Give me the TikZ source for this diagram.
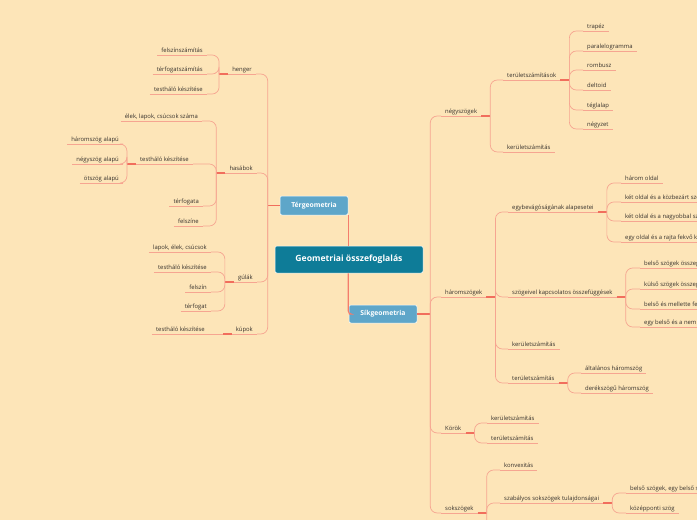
\documentclass[tikz,border=0pt]{standalone}
\usepackage{fontspec}
\setmainfont{Open Sans}

% Szinek
\definecolor{hatter}{RGB}{253,229,184}
\definecolor{vonal}{RGB}{246,165,145}
\definecolor{csonk}{RGB}{241,110,92}
\definecolor{fovonal}{RGB}{244,125,108}
\definecolor{kozep}{RGB}{14,124,152}
\definecolor{agkek}{RGB}{94,166,201}
\definecolor{szoveg}{RGB}{55,50,45}

\tikzset{
  alahuz/.style={draw=vonal, line width=0.6pt},
  tema/.style={font=\fontsize{5.9}{7}\selectfont, text=szoveg,
    inner xsep=4pt, inner ysep=1.4pt, text height=4.3pt, text depth=1.2pt,
    append after command={(\tikzlastnode.south west) edge[alahuz] (\tikzlastnode.south east)}},
  bal/.style={tema, anchor=south east},
  jobb/.style={tema, anchor=south west},
  ag/.style={draw=vonal, line width=0.7pt, rounded corners=7pt},
  csonkvonal/.style={draw=csonk, line width=1.6pt},
  fo/.style={draw=fovonal, line width=1.1pt, rounded corners=3pt},
  doboz/.style={rounded corners=2pt, draw=white, line width=0.5pt, text=white,
    font=\bfseries\fontsize{6.8}{8}\selectfont, fill=agkek,
    minimum width=68pt, minimum height=19pt, inner sep=0pt}
}

\begin{document}
\begin{tikzpicture}[x=1pt, y=-1pt]

  % Hatter es keret
  \useasboundingbox (0,0) rectangle (697,520);
  \clip (0,0) rectangle (697,520);
  \fill[hatter] (0,0) rectangle (697,520);

  % Kozepso temak
  \node[doboz, fill=kozep, minimum width=148pt, minimum height=27pt,
    font=\bfseries\fontsize{8.6}{10}\selectfont] (geo) at (349,259.5) {Geometriai összefoglalás};
  \node[doboz] (ter) at (314,205.5) {Térgeometria};
  \node[doboz, minimum height=18pt] (sik) at (383,314) {Síkgeometria};

  \draw[fo] (ter.south east) -- (ter.south east |- geo.north);
  \draw[fo] (geo.south -| ter.south east) |- (sik.west);

  % Tergeometria aga
  \node[bal] (henger) at (256,74) {henger};
  \node[bal] (felszinsz) at (207,55) {felszínszámítás};
  \node[bal] (terfogsz) at (207,74) {térfogatszámítás};
  \node[bal] (hengerhalo) at (207,94) {testháló készítése};

  \node[bal] (hasabok) at (257,173) {hasábok};
  \node[bal] (hasel) at (202,121) {élek, lapok, csúcsok száma};
  \node[bal] (hashalo) at (193,164) {testháló készítése};
  \node[bal] (haromalap) at (123,144) {háromszög alapú};
  \node[bal] (negyalap) at (123,164) {négyszög alapú};
  \node[bal] (otalap) at (123,183) {ötszög alapú};
  \node[bal] (hasterf) at (203,206) {térfogata};
  \node[bal] (hasfel) at (203,226) {felszíne};

  \node[bal] (gulak) at (257,282) {gúlák};
  \node[bal] (gullap) at (211,252) {lapok, élek, csúcsok};
  \node[bal] (gulhalo) at (211,272) {testháló készítése};
  \node[bal] (gulfel) at (211,292) {felszín};
  \node[bal] (gulterf) at (211,311) {térfogat};

  \node[bal] (kupok) at (257,334) {kúpok};
  \node[bal] (kuphalo) at (209,334) {testháló készítése};

  % Sikgeometria aga
  \node[jobb] (negyszog) at (441,116) {négyszögek};
  \node[jobb] (terszamok) at (503,80) {területszámítások};
  \node[jobb] (trapez) at (583,31) {trapéz};
  \node[jobb] (paral) at (583,51) {paralelogramma};
  \node[jobb] (rombusz) at (583,70) {rombusz};
  \node[jobb] (deltoid) at (583,90) {deltoid};
  \node[jobb] (teglalap) at (583,110) {téglalap};
  \node[jobb] (negyzet) at (583,129) {négyzet};
  \node[jobb] (negyker) at (503,152) {kerületszámítás};

  \node[jobb] (haromszog) at (441,297) {háromszögek};
  \node[jobb] (egybe) at (508,212) {egybevágóságának alapesetei};
  \node[jobb] (egy1) at (621,183) {három oldal};
  \node[jobb] (egy2) at (621,202) {két oldal és a közbezárt szög};
  \node[jobb] (egy3) at (621,221) {két oldal és a nagyobbal szemközti szög};
  \node[jobb] (egy4) at (621,242) {egy oldal és a rajta fekvő két szög};
  \node[jobb] (szogei) at (508,297) {szögeivel kapcsolatos összefüggések};
  \node[jobb] (szog1) at (640,268) {belső szögek összege};
  \node[jobb] (szog2) at (640,289) {külső szögek összege};
  \node[jobb] (szog3) at (640,309) {belső és mellette fekvő külső szög};
  \node[jobb] (szog4) at (640,327) {egy belső és a nem mellette fekvő külső szög};
  \node[jobb] (haromker) at (508,349) {kerületszámítás};
  \node[jobb] (haromter) at (508,383) {területszámítás};
  \node[jobb] (altalanos) at (581,373) {általános háromszög};
  \node[jobb] (derek) at (581,393) {derékszögű háromszög};

  \node[jobb] (korok) at (441,433) {Körök};
  \node[jobb] (korker) at (487,423) {kerületszámítás};
  \node[jobb] (korter) at (487,443) {területszámítás};

  \node[jobb] (sokszog) at (441,513) {sokszögek};
  \node[jobb] (konvex) at (500,470) {konvexitás};
  \node[jobb] (szabalyos) at (500,503) {szabályos sokszögek tulajdonságai};
  \node[jobb] (szab1) at (626,493) {belső szögek, egy belső szög};
  \node[jobb] (szab2) at (626,513) {középponti szög};
  \coordinate (sokmore) at (500,560);

  % Csonkok a szulok mellett
  \draw[csonkvonal] (ter.west) -- ++(-12,0) coordinate (ter-s);
  \draw[csonkvonal] (sik.east) -- ++(13,0) coordinate (sik-s);
  \foreach \p in {henger,hasabok,hashalo,gulak,kupok}
    \draw[csonkvonal] (\p.south west) -- ++(-9,0) coordinate (\p-s);
  \foreach \p in {negyszog,terszamok,haromszog,egybe,szogei,haromter,korok,sokszog,szabalyos}
    \draw[csonkvonal] (\p.south east) -- ++(9,0) coordinate (\p-s);

  % Agak bal oldalt
  \foreach \c in {henger,hasabok,gulak,kupok}
    \draw[ag] (ter-s) |- (\c.south east);
  \foreach \c in {felszinsz,terfogsz,hengerhalo}
    \draw[ag] (henger-s) |- (\c.south east);
  \foreach \c in {hasel,hashalo,hasterf,hasfel}
    \draw[ag] (hasabok-s) |- (\c.south east);
  \foreach \c in {haromalap,negyalap,otalap}
    \draw[ag] (hashalo-s) |- (\c.south east);
  \foreach \c in {gullap,gulhalo,gulfel,gulterf}
    \draw[ag] (gulak-s) |- (\c.south east);
  \draw[ag] (kupok-s) -- (kuphalo.south east);

  % Agak jobb oldalt
  \foreach \c in {negyszog,haromszog,korok,sokszog}
    \draw[ag] (sik-s) |- (\c.south west);
  \foreach \c in {terszamok,negyker}
    \draw[ag] (negyszog-s) |- (\c.south west);
  \foreach \c in {trapez,paral,rombusz,deltoid,teglalap,negyzet}
    \draw[ag] (terszamok-s) |- (\c.south west);
  \foreach \c in {egybe,szogei,haromker,haromter}
    \draw[ag] (haromszog-s) |- (\c.south west);
  \foreach \c in {egy1,egy2,egy3,egy4}
    \draw[ag] (egybe-s) |- (\c.south west);
  \foreach \c in {szog1,szog2,szog3,szog4}
    \draw[ag] (szogei-s) |- (\c.south west);
  \foreach \c in {altalanos,derek}
    \draw[ag] (haromter-s) |- (\c.south west);
  \foreach \c in {korker,korter}
    \draw[ag] (korok-s) |- (\c.south west);
  \foreach \c in {konvex,szabalyos,sokmore}
    \draw[ag] (sokszog-s) |- (\c.south west);
  \foreach \c in {szab1,szab2}
    \draw[ag] (szabalyos-s) |- (\c.south west);

\end{tikzpicture}
\end{document}
